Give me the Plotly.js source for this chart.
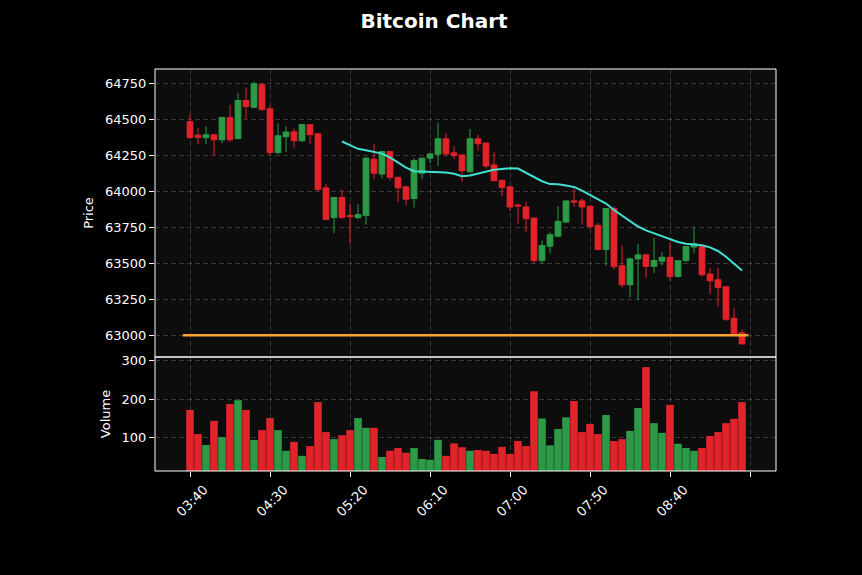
<!DOCTYPE html>
<html>
<head>
<meta charset="utf-8">
<script src="https://cdn.plot.ly/plotly-3.0.1.min.js"></script>
<style>
  html, body { margin: 0; padding: 0; background: #000; }
  #chart { width: 862px; height: 575px; }
</style>
</head>
<body>
<div id="chart"></div>
<script>
// ---- Data ----
const tickLabels = ['03:40', '04:30', '05:20', '06:10', '07:00', '07:50', '08:40', ''];
const tickIndex = [0, 10, 20, 30, 40, 50, 60, 70];

const openP = [64484,64390,64372,64393,64358,64512,64367,64631,64584,64743,
  64573,64269,64379,64414,64351,64463,64400,64024,63817,63957,
  63831,63817,63831,64223,64120,64276,64097,64031,63950,64125,
  64230,64258,64365,64267,64253,64136,64365,64335,64183,64076,
  64031,63905,63891,63814,63518,63618,63688,63786,63933,63933,
  63896,63763,63595,63880,63483,63350,63530,63558,63478,63514,
  63541,63408,63518,63612,63618,63425,63385,63336,63117,63016];

const highP = [64538,64440,64451,64400,64520,64601,64682,64720,64764,64750,
  64596,64472,64451,64437,64470,64463,64400,64050,63957,64013,
  63915,63908,64241,64330,64280,64280,64100,64031,64230,64236,
  64265,64475,64405,64316,64253,64433,64393,64340,64272,64076,
  64031,63915,63926,63814,63658,63716,63896,63940,64020,63952,
  63900,63779,63885,63895,63623,63540,63635,63558,63677,63576,
  63646,63518,63620,63751,63630,63467,63467,63340,63187,63040];

const lowP = [64363,64328,64328,64246,64335,64344,64360,64503,64577,64562,
  64251,64258,64274,64304,64344,64330,64000,63798,63709,63810,
  63635,63806,63768,64083,64090,64073,63926,63903,63887,64083,
  64195,64176,64246,64225,64066,64125,64283,64160,64073,63966,
  63863,63775,63716,63495,63495,63569,63680,63780,63891,63770,
  63740,63590,63483,63455,63331,63261,63243,63397,63432,63483,
  63380,63400,63510,63572,63408,63285,63196,63098,63005,62935];

const closeP = [64374,64375,64393,64358,64512,64358,64631,64589,64748,64568,
  64269,64386,64412,64351,64463,64393,64013,63805,63957,63817,
  63824,63838,64230,64125,64276,64097,64024,63945,64213,64230,
  64260,64365,64260,64248,64143,64365,64330,64176,64073,64027,
  63891,63898,63810,63518,63623,63698,63791,63933,63926,63891,
  63756,63595,63880,63476,63350,63530,63558,63478,63518,63542,
  63408,63518,63616,63635,63420,63378,63331,63110,63012,62939];

const volume = [172,110,82,144,102,187,197,172,95,120,
  151,120,67,90,54,79,192,115,97,107,
  120,151,126,126,51,67,74,62,74,46,
  44,95,54,86,76,67,69,67,59,77,
  59,92,79,220,150,81,123,153,195,115,
  136,110,159,92,97,118,177,282,138,113,
  185,85,74,67,74,105,115,138,149,192];

// Moving-average line values (from candle 19 onwards)
const maStart = 19;
const maValues = [64346,64320,64295,64285,64275,64262,64235,64200,64165,64140,
  64138,64136,64134,64130,64122,64105,64110,64125,64140,64150,
  64155,64160,64158,64130,64100,64070,64050,64048,64040,64030,
  64005,63975,63945,63915,63870,63830,63790,63755,63728,63708,
  63690,63668,63648,63636,63630,63625,63610,63585,63545,63495,
  63450];

const supportLevel = 63000;

// ---- Build ----
const UP = '#2d9a47';
const DOWN = '#e0242a';
const idx = openP.map((_, i) => i);
const volColors = idx.map(i => closeP[i] >= openP[i] ? UP : DOWN);
const maX = maValues.map((_, k) => maStart + k);

const gridColor = 'rgba(120,120,120,0.4)';
const font = { family: 'DejaVu Sans, sans-serif', color: '#ffffff', size: 13 };

const traces = [
  {
    type: 'candlestick', x: idx, open: openP, high: highP, low: lowP, close: closeP,
    xaxis: 'x', yaxis: 'y',
    increasing: { line: { color: UP, width: 1 }, fillcolor: UP },
    decreasing: { line: { color: DOWN, width: 1 }, fillcolor: DOWN },
    whiskerwidth: 0, showlegend: false, hoverinfo: 'none'
  },
  {
    type: 'scatter', mode: 'lines', x: maX, y: maValues,
    xaxis: 'x', yaxis: 'y',
    line: { color: '#40e0d0', width: 2 }, showlegend: false, hoverinfo: 'none'
  },
  {
    type: 'scatter', mode: 'lines',
    x: [idx[0] - 0.9, idx[idx.length - 1] + 0.8], y: [supportLevel, supportLevel],
    xaxis: 'x', yaxis: 'y',
    line: { color: '#ffa232', width: 2.5 }, showlegend: false, hoverinfo: 'none'
  },
  {
    type: 'bar', x: idx, y: volume, base: 0,
    xaxis: 'x', yaxis: 'y2', width: 0.95,
    marker: { color: volColors, line: { width: 0 } },
    showlegend: false, hoverinfo: 'none'
  }
];

const split = (471 - 357) / 402;

const layout = {
  width: 862, height: 575,
  paper_bgcolor: '#000000',
  plot_bgcolor: '#0d0d0d',
  margin: { l: 155, r: 86, t: 69, b: 104 },
  font: font,
  showlegend: false,
  boxgap: 0.28, boxgroupgap: 0,
  title: {
    text: '<b>Bitcoin Chart</b>',
    x: 0.5035, xref: 'container', xanchor: 'center',
    y: 1 - 21 / 575, yref: 'container', yanchor: 'middle',
    font: { family: 'DejaVu Sans, sans-serif', size: 20, color: '#ffffff' }
  },
  xaxis: {
    anchor: 'y2',
    range: [-4.375, 73.25],
    tickmode: 'array', tickvals: tickIndex, ticktext: tickLabels,
    tickangle: -45,
    ticks: 'outside', ticklen: 5, tickcolor: '#ffffff', tickwidth: 1,
    ticklabelshift: 14,
    showgrid: true, gridcolor: gridColor, griddash: '5px,3px', gridwidth: 1,
    zeroline: false, showline: false,
    rangeslider: { visible: false },
    tickfont: font
  },
  yaxis: {
    domain: [split, 1],
    anchor: 'x',
    range: [62848, 64850],
    tick0: 0, dtick: 250, tickformat: 'd',
    ticks: 'outside', ticklen: 5, tickcolor: '#ffffff', tickwidth: 1,
    showgrid: true, gridcolor: gridColor, griddash: '5px,3px', gridwidth: 1,
    zeroline: false, showline: false,
    tickfont: font,
    title: { text: 'Price', font: font, standoff: 8 }
  },
  yaxis2: {
    domain: [0, split],
    anchor: 'x',
    range: [15, 308],
    tick0: 0, dtick: 100, tickformat: 'd',
    ticks: 'outside', ticklen: 5, tickcolor: '#ffffff', tickwidth: 1,
    showgrid: true, gridcolor: gridColor, griddash: '5px,3px', gridwidth: 1,
    zeroline: false, showline: false,
    tickfont: font,
    title: { text: 'Volume', font: font, standoff: 8 }
  },
  shapes: [
    { type: 'rect', xref: 'paper', yref: 'paper', x0: 0, x1: 1, y0: split, y1: 1,
      line: { color: '#ffffff', width: 1 }, fillcolor: 'rgba(0,0,0,0)', layer: 'above' },
    { type: 'rect', xref: 'paper', yref: 'paper', x0: 0, x1: 1, y0: 0, y1: split,
      line: { color: '#ffffff', width: 1 }, fillcolor: 'rgba(0,0,0,0)', layer: 'above' }
  ]
};

Plotly.newPlot('chart', traces, layout, { staticPlot: true, displayModeBar: false });
</script>
</body>
</html>
